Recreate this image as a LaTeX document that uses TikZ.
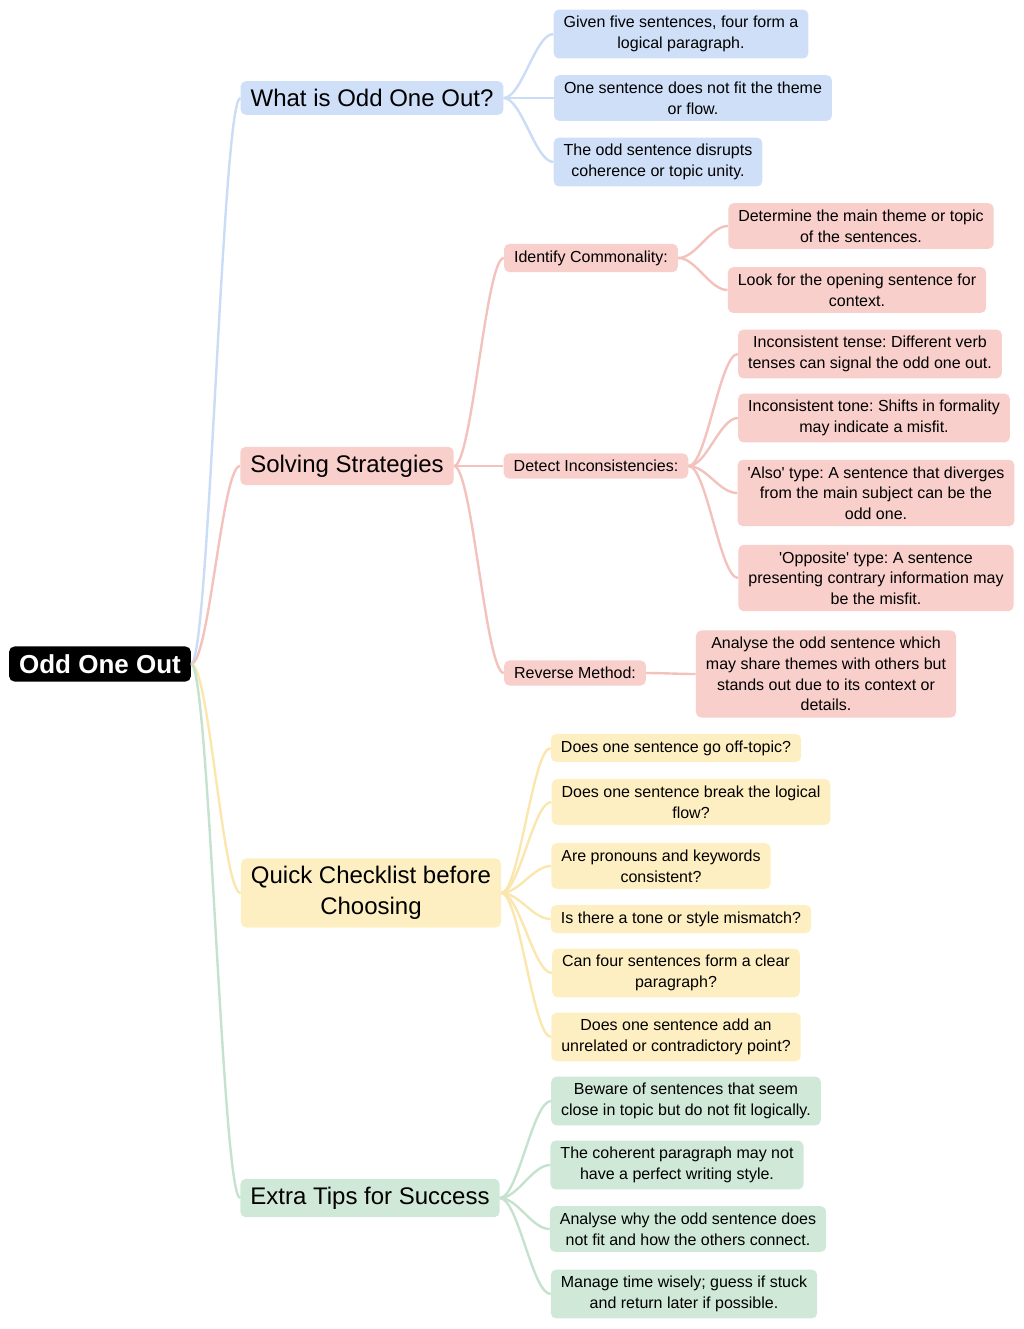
\documentclass[tikz,border=0pt]{standalone}
\usepackage{fontspec}
\setmainfont{Liberation Sans}
\usetikzlibrary{positioning}
\definecolor{bluebox}{HTML}{CFDFF8}
\definecolor{blueline}{HTML}{CADCF6}
\definecolor{redbox}{HTML}{F8CFCB}
\definecolor{redline}{HTML}{F4C2BC}
\definecolor{yellowbox}{HTML}{FDEFC2}
\definecolor{yellowline}{HTML}{FBE7AE}
\definecolor{greenbox}{HTML}{CFE8D7}
\definecolor{greenline}{HTML}{C4E2CD}
\frenchspacing
\tikzset{
  box/.style={rounded corners=4pt, inner xsep=7.5pt, inner ysep=5pt, align=center, font=\fontsize{12}{15.5}\selectfont},
  topic/.style={box, inner ysep=6pt, font=\fontsize{18}{23}\selectfont},
  link/.style={line width=1.8pt},
}
\newcommand{\branch}[3]{\draw[link,#3] (#1.east) .. controls +(18,0) and +(-18,0) .. (#2.west);}
\newcommand{\sq}{\textquotesingle}
\begin{document}
\begin{tikzpicture}[x=0.75pt,y=-0.75pt]
		\useasboundingbox (0,0) rectangle (1024,1329);
		% root and main topics
		\node[box, fill=black, text=white, inner ysep=6pt, font=\fontsize{19.5}{23}\bfseries] (root) at (100,664) {Odd One Out};
		\node[topic, fill=bluebox] (what) at (372,98) {What is Odd One Out?};
		\node[topic, fill=redbox] (solve) at (347,466) {Solving Strategies};
		\node[topic, fill=yellowbox] (check) at (371,893) {Quick Checklist before\\Choosing};
		\node[topic, fill=greenbox] (tips) at (370,1198) {Extra Tips for Success};

		% what is it
		\node[box, fill=bluebox] (w1) at (681,34) {Given five sentences, four form a\\logical paragraph.};
		\node[box, fill=bluebox] (w2) at (693,98) {One sentence does not fit the theme\\or flow.};
		\node[box, fill=bluebox] (w3) at (658,162) {The odd sentence disrupts\\coherence or topic unity.};

		% strategies
		\node[box, fill=redbox] (ident) at (591,258) {Identify Commonality:};
		\node[box, fill=redbox] (detect) at (596,466) {Detect Inconsistencies:};
		\node[box, fill=redbox] (rev) at (575,673) {Reverse Method:};
		\node[box, fill=redbox] (i1) at (861,226) {Determine the main theme or topic\\of the sentences.};
		\node[box, fill=redbox] (i2) at (857,290) {Look for the opening sentence for\\context.};
		\node[box, fill=redbox] (d1) at (870,354) {Inconsistent tense: Different verb\\tenses can signal the odd one out.};
		\node[box, fill=redbox] (d2) at (874,418) {Inconsistent tone: Shifts in formality\\may indicate a misfit.};
		\node[box, fill=redbox] (d3) at (876,493) {\sq Also\sq{} type: A sentence that diverges\\from the main subject can be the\\odd one.};
		\node[box, fill=redbox] (d4) at (876,578) {\sq Opposite\sq{} type: A sentence\\presenting contrary information may\\be the misfit.};
		\node[box, fill=redbox] (r1) at (826,674) {Analyse the odd sentence which\\may share themes with others but\\stands out due to its context or\\details.};

		% checklist
		\node[box, fill=yellowbox] (c1) at (676,748) {Does one sentence go off-topic?};
		\node[box, fill=yellowbox] (c2) at (691,802) {Does one sentence break the logical\\flow?};
		\node[box, fill=yellowbox] (c3) at (661,866) {Are pronouns and keywords\\consistent?};
		\node[box, fill=yellowbox] (c4) at (681,919) {Is there a tone or style mismatch?};
		\node[box, fill=yellowbox] (c5) at (676,973) {Can four sentences form a clear\\paragraph?};
		\node[box, fill=yellowbox] (c6) at (676,1037) {Does one sentence add an\\unrelated or contradictory point?};

		% tips
		\node[box, fill=greenbox] (t1) at (686,1101) {Beware of sentences that seem\\close in topic but do not fit logically.};
		\node[box, fill=greenbox] (t2) at (677,1165) {The coherent paragraph may not\\have a perfect writing style.};
		\node[box, fill=greenbox] (t3) at (688,1229) {Analyse why the odd sentence does\\not fit and how the others connect.};
		\node[box, fill=greenbox] (t4) at (684,1294) {Manage time wisely; guess if stuck\\and return later if possible.};

		% connectors
		\branch{root}{what}{blueline}
		\branch{root}{solve}{redline}
		\branch{root}{check}{yellowline}
		\branch{root}{tips}{greenline}
		\foreach \n in {w1,w2,w3} {\branch{what}{\n}{blueline}}
		\foreach \n in {ident,detect,rev} {\branch{solve}{\n}{redline}}
		\foreach \n in {i1,i2} {\branch{ident}{\n}{redline}}
		\foreach \n in {d1,d2,d3,d4} {\branch{detect}{\n}{redline}}
		\branch{rev}{r1}{redline}
		\foreach \n in {c1,c2,c3,c4,c5,c6} {\branch{check}{\n}{yellowline}}
		\foreach \n in {t1,t2,t3,t4} {\branch{tips}{\n}{greenline}}
	\end{tikzpicture}
\end{document}
